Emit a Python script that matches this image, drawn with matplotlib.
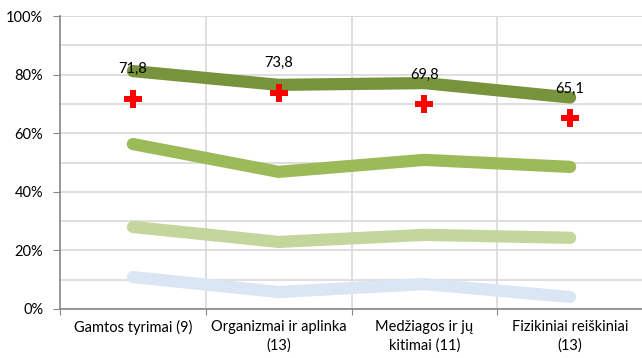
import matplotlib.pyplot as plt
from matplotlib.ticker import MultipleLocator, FuncFormatter

plt.rcParams['font.family'] = ['Lato', 'DejaVu Sans']

categories = ['Gamtos tyrimai (9)', 'Organizmai ir aplinka\n(13)',
              'Medžiagos ir jų\nkitimai (11)', 'Fizikiniai reiškiniai\n(13)']
level_top = [81.2, 76.5, 77.1, 72.2]
level_upper = [56.3, 46.8, 50.9, 48.5]
level_lower = [28.0, 22.9, 25.3, 24.3]
level_base = [10.9, 5.8, 8.5, 4.1]
average = [71.8, 73.8, 69.8, 65.1]

fig = plt.figure(figsize=(6.42, 3.58), dpi=100)
ax = fig.add_axes([60 / 642, 49 / 358, 583 / 642, 293 / 358])

x = list(range(len(categories)))
series = [(level_base, '#DAE6F4'), (level_lower, '#C3D69B'),
          (level_upper, '#9BBB59'), (level_top, '#77933C')]
for vals, col in series:
    ax.plot(x, vals, color=col, lw=8.8, solid_capstyle='round',
            solid_joinstyle='round', zorder=3)

ax.plot(x, average, ls='none', marker='P', ms=13, color='#FF0000',
        markeredgewidth=0, zorder=4)
for xi, v in zip(x, average):
    ax.annotate(f'{v:.1f}'.replace('.', ','), (xi, v), xytext=(0, 21.5),
                textcoords='offset points', ha='center', va='center',
                fontsize=10.5, zorder=5)

ax.set_xlim(-0.5, 3.5)
ax.set_ylim(0, 100)
ax.yaxis.set_major_locator(MultipleLocator(20))
ax.yaxis.set_minor_locator(MultipleLocator(10))
ax.yaxis.set_major_formatter(FuncFormatter(lambda v, p: f'{v:.0f}%'))
ax.set_xticks([i - 0.5 for i in range(4)])
ax.set_xticklabels([])
ax.set_xticks(x, minor=True)
ax.set_xticklabels(categories, minor=True, fontsize=10.5, linespacing=1.35)
ax.tick_params(axis='x', which='minor', length=0, pad=8)
ax.tick_params(axis='x', which='major', length=4, color='#868686')
ax.tick_params(axis='y', which='major', length=5, color='#868686',
               labelsize=10.5, pad=7)
ax.tick_params(axis='y', which='minor', length=0)

ax.grid(True, which='both', axis='y', color='#D9D9D9', lw=1.2, zorder=0)
for b in [0.5, 1.5, 2.5]:
    ax.axvline(b, color='#D9D9D9', lw=1.2, zorder=0)
ax.axhline(100, color='#D9D9D9', lw=1.2, zorder=0)

for s in ['top', 'right']:
    ax.spines[s].set_visible(False)
for s in ['left', 'bottom']:
    ax.spines[s].set_color('#868686')
    ax.spines[s].set_linewidth(1.2)

fig.savefig('out.png', dpi=100)
